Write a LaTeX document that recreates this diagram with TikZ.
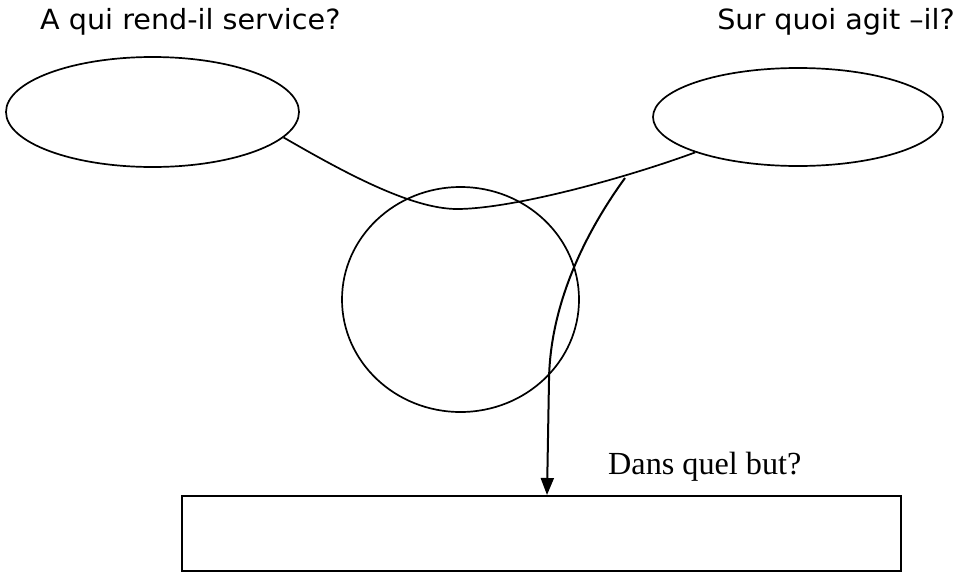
\documentclass[tikz,border=0pt]{standalone}
\usepackage{fontspec}
\setmainfont{Liberation Serif}
\newfontfamily\topfont[FakeStretch=1.03]{DejaVu Sans}
\usetikzlibrary{shapes.geometric,arrows.meta}
\begin{document}
\begin{tikzpicture}[x=1pt,y=-1pt,
  oval/.style={draw,ellipse,line width=1.7pt,inner sep=0pt},
  curveline/.style={line width=1.7pt},
  arrowline/.style={line width=2pt,-{Triangle[width=13pt,length=17pt]}},
  boxshape/.style={draw,rectangle,line width=2.1pt,inner sep=0pt},
  toptext/.style={inner sep=0pt,font=\topfont\fontsize{27.8pt}{30pt}\selectfont},
  serifttext/.style={inner sep=0pt,font=\fontsize{32.2pt}{36pt}\selectfont}]
\useasboundingbox (0,0) rectangle (960,573);
\node[oval,minimum width=293pt,minimum height=110pt] (L) at (152.5,112) {};
\node[oval,minimum width=290pt,minimum height=98pt] (Rt) at (798,117) {};
\node[oval,minimum width=237pt,minimum height=225pt] (C) at (460.5,299.5) {};
\node[boxshape,minimum width=719pt,minimum height=75pt] (B) at (541.5,533.5) {};
\node[toptext,anchor=base west] (t1) at (40,29.3) {A qui rend-il service?};
\node[toptext,anchor=base east] (t2) at (955,29) {Sur quoi agit –il?};
\node[serifttext,anchor=base west] (t3) at (608,474) {Dans quel but?};
\coordinate (s) at (625,178);
\coordinate (tip) at (547,495);
\draw[curveline] (L.-11.8) .. controls (340,170) and (410,209) .. (457,209)
  .. controls (510,209) and (620,180) .. (Rt.-161.4);
\draw[arrowline] (s) .. controls (580,240) and (550,310) .. (549,380) -- (tip);
\end{tikzpicture}
\end{document}
